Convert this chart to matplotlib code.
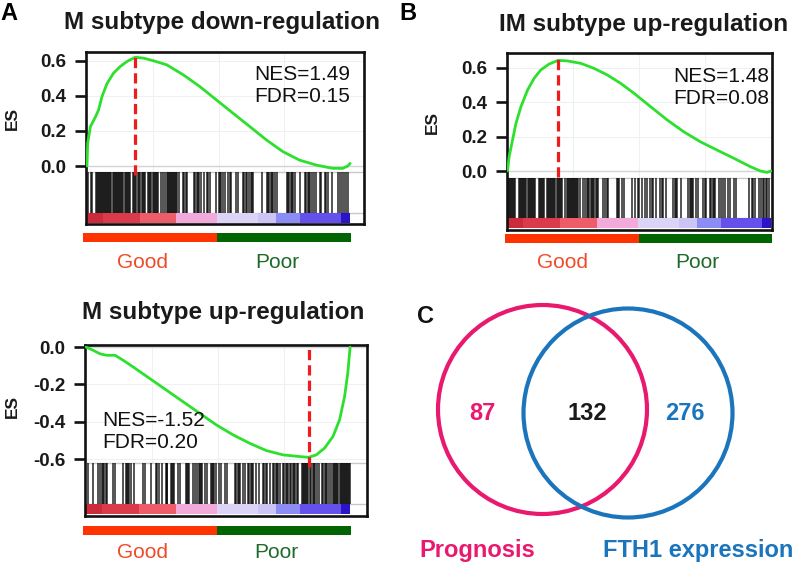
import matplotlib
matplotlib.use("Agg")
import matplotlib.pyplot as plt
from matplotlib.patches import Circle, Rectangle

plt.rcParams['font.family'] = ['Liberation Sans', 'DejaVu Sans']

# ---------------- data ----------------
# Panel A: M subtype down-regulation
a_rank = [0, 0.25, 1.3, 3.2, 4.4, 5.7, 7.6, 10.1, 12.6, 15.2, 18.3, 21.5, 25.3, 30.3,
          36.6, 42.9, 49.2, 55.6, 61.9, 68.2, 74.5, 80.8, 87.1, 93.4, 97.2, 99.1, 100]
a_es = [0, 0.13, 0.225, 0.28, 0.32, 0.396, 0.47, 0.53, 0.567, 0.596, 0.62, 0.615, 0.60,
        0.577, 0.52, 0.453, 0.377, 0.30, 0.225, 0.149, 0.082, 0.034, 0.006, -0.013,
        -0.013, 0.0, 0.015]
a_hits = [0.2, 1.4, 2.0, 3.3, 3.7, 4.1, 4.5, 4.9, 5.3, 5.7, 6.1, 6.5, 6.9, 7.3, 7.7, 8.1,
          8.5, 8.9, 9.3, 9.7, 10.1, 10.5, 10.9, 11.3, 11.7, 12.1, 12.5, 12.9, 13.3, 13.7,
          14.5, 14.9, 15.3, 15.7, 16.1, 16.5, 17.6, 18.0, 18.4, 18.8, 19.2, 19.6, 20.0,
          21.0, 21.4, 21.8, 22.2, 23.3, 23.7, 24.1, 24.5, 24.9, 25.3, 25.7, 26.1, 26.5,
          26.9, 28.2, 29.0, 29.7, 30.4, 30.8, 31.2, 31.6, 32.0, 32.4, 32.8, 33.2, 33.6,
          34.0, 34.4, 34.8, 36.5, 37.0, 37.5, 38.0, 40.7, 41.2, 41.7, 42.2, 42.6, 43.5,
          44.6, 45.6, 46.1, 46.6, 48.9, 50.0, 50.6, 51.1, 51.6, 52.5, 53.7, 54.2, 54.8,
          56.5, 57.5, 59.3, 59.8, 60.3, 60.8, 61.5, 62.3, 62.8, 63.1, 66.5, 68.3, 68.8,
          69.3, 69.8, 70.3, 70.7, 71.6, 72.3, 75.9, 76.4, 76.9, 77.4, 77.9, 78.4, 78.9,
          81.0, 82.9, 83.4, 83.9, 84.4, 84.9, 85.4, 86.2, 87.0, 88.6, 89.1, 90.5, 91.0,
          91.5, 93.0, 95.6, 96.1, 97.0, 97.8, 98.6, 99.4]
a_peak_rank, a_peak_es = 18.3, 0.62

# Panel B: IM subtype up-regulation
b_rank = [0, 0.6, 1.9, 3.2, 5.1, 7.6, 10.1, 12.6, 15.8, 19.2, 22.7, 27.8, 32.8, 37.9,
          42.9, 48.0, 54.3, 60.6, 66.9, 73.2, 79.5, 85.9, 92.2, 96.0, 98.5, 100]
b_es = [0, 0.083, 0.18, 0.277, 0.374, 0.471, 0.539, 0.587, 0.622, 0.643, 0.64, 0.626,
        0.597, 0.558, 0.51, 0.452, 0.374, 0.297, 0.228, 0.17, 0.122, 0.074, 0.025, 0.0,
        -0.008, 0.0]
b_hits = [0.2, 0.6, 1.0, 1.4, 1.8, 2.2, 2.6, 3.0, 4.4, 4.8, 5.2, 5.6, 6.0, 6.4, 6.8, 7.2,
          7.6, 8.0, 8.4, 8.8, 9.2, 9.6, 10.0, 10.4, 11.8, 12.2, 12.6, 13.0, 13.4, 13.8,
          15.0, 15.4, 15.8, 16.2, 16.6, 17.0, 17.4, 17.8, 18.2, 18.6, 19.0, 19.4, 19.8,
          20.2, 20.6, 22.0, 22.4, 22.8, 23.2, 23.6, 24.0, 24.4, 24.8, 25.2, 25.6, 26.0,
          26.4, 26.8, 27.7, 28.6, 29.5, 30.0, 30.5, 31.0, 31.5, 32.0, 32.5, 33.0, 33.5,
          34.0, 34.5, 36.2, 36.9, 37.8, 38.3, 41.5, 42.0, 42.5, 43.5, 44.2, 47.4, 48.5,
          49.5, 50.0, 50.9, 52.3, 52.8, 54.2, 54.7, 55.2, 56.5, 58.0, 58.5, 59.0, 60.3,
          62.9, 63.4, 63.9, 64.4, 65.8, 68.6, 69.1, 69.6, 70.1, 70.5, 71.5, 72.2, 74.2,
          74.8, 75.4, 76.9, 77.4, 77.9, 78.4, 78.8, 80.2, 81.2, 81.8, 82.4, 83.7, 84.3,
          85.8, 86.8, 91.6, 92.8, 93.3, 93.8, 95.4, 96.4, 97.0, 97.5, 98.0, 98.5, 99.2]
b_peak_rank, b_peak_es = 19.2, 0.643

# Panel A (lower): M subtype up-regulation
c_rank = [0, 2.8, 5.3, 7.8, 11.0, 14.1, 17.9, 24.2, 30.5, 36.8, 43.1, 49.4, 55.7, 62.0,
          68.3, 74.6, 80.9, 84.3, 87.2, 90.3, 93.5, 96.0, 97.9, 99.1, 100]
c_es = [0, -0.018, -0.036, -0.044, -0.044, -0.071, -0.107, -0.169, -0.231, -0.293,
        -0.355, -0.417, -0.47, -0.515, -0.554, -0.577, -0.586, -0.59, -0.577, -0.541,
        -0.479, -0.39, -0.266, -0.142, 0]
c_hits = [0.8, 2.6, 4.4, 5.2, 6.0, 6.5, 7.0, 7.5, 8.0, 10.2, 11.0, 13.9, 15.0, 15.5, 16.0,
          16.3, 17.2, 18.0, 21.5, 22.3, 24.8, 26.4, 27.0, 27.8, 28.7, 30.2, 30.5, 30.8,
          32.1, 32.5, 32.9, 33.3, 34.8, 35.6, 37.8, 38.2, 38.6, 39.0, 40.5, 41.3, 42.2,
          42.6, 43.0, 43.4, 43.8, 44.9, 45.9, 47.2, 47.6, 48.0, 48.5, 49.4, 50.4, 51.3,
          52.7, 53.2, 56.4, 56.9, 57.4, 57.9, 58.3, 59.4, 60.2, 61.4, 61.9, 62.4, 62.9,
          63.3, 64.3, 65.5, 67.0, 67.5, 68.0, 68.6, 69.5, 70.8, 71.3, 71.8, 72.3, 72.7,
          73.6, 74.6, 75.1, 75.6, 76.1, 76.5, 77.3, 77.8, 78.3, 78.8, 79.3, 79.8, 80.3,
          81.9, 82.2, 82.6, 83.0, 83.4, 83.8, 84.1, 84.8, 85.3, 85.8, 86.3, 86.8, 87.3,
          88.4, 89.4, 89.9, 90.4, 90.9, 91.3, 92.2, 92.9, 93.6, 94.0, 94.4, 94.8, 95.2,
          95.6, 96.0, 96.4, 96.8, 97.2, 97.6, 98.0, 98.4, 98.8, 99.2, 99.6, 100.0]
c_peak_rank, c_peak_es = 84.6, -0.59

# ranked-list colour bar (shared)
cbar_edges = [0, 6, 20, 34, 49.5, 65, 72, 81, 96.5, 100]
cbar_colors = ['#CC2B3B', '#DB3A4A', '#EE5C6A', '#F2AADA', '#DCD4F6', '#CBC4F5',
               '#8C8CF5', '#6450EA', '#2A14C8']

groups = ['Good', 'Poor']
group_share = [50, 50]
group_colors = ['#FF3300', '#006400']
group_text_colors = ['#F04A2A', '#1E6A2A']

venn_sets = ['Prognosis', 'FTH1 expression']
venn_counts = [87, 132, 276]
venn_colors = ['#E8196E', '#1A75BC']

# ---------------- layout helpers ----------------
W, H = 800, 563
fig = plt.figure(figsize=(W / 100, H / 100), dpi=100)


def frect(l, t, r, b):
    return [l / W, 1 - b / H, (r - l) / W, (b - t) / H]


def ftext(x, y, s, **kw):
    fig.text(x / W, 1 - y / H, s, **kw)


def gsea(rect, xlim, ylim, rank, es, hits, peak_rank, dash, sep, hit_bot, cbar_bot,
         yticks):
    ax = fig.add_axes(rect)
    ax.set_xlim(xlim)
    ax.set_ylim(ylim)
    # faint grid in the curve region
    ax.vlines([25, 50, 75], sep, ylim[1], color='#F0F0F0', lw=0.8, zorder=0)
    ax.hlines(yticks, xlim[0], xlim[1], color='#F0F0F0', lw=0.8, zorder=0)
    ax.hlines(0, xlim[0], xlim[1], color='#D4D4D4', lw=1.0, zorder=1)
    ax.hlines([sep, hit_bot], xlim[0], xlim[1], color='#C8C8C8', lw=1.0, zorder=1)
    # hits
    ax.vlines(hits, hit_bot, sep, color='black', lw=1.15, alpha=0.82, zorder=2)
    # ranked list colour bar
    for e0, e1, c in zip(cbar_edges[:-1], cbar_edges[1:], cbar_colors):
        ax.add_patch(Rectangle((e0, cbar_bot), e1 - e0, hit_bot - cbar_bot,
                               facecolor=c, edgecolor='none', zorder=2))
    # running ES
    ax.plot(rank, es, color='#2EE02E', lw=2.0, zorder=4, solid_capstyle='round')
    ax.vlines(peak_rank, dash[0], dash[1], colors='#EE1C1C', lw=2.3,
              linestyles=(0, (3.2, 1.6)), zorder=5)
    ax.set_xticks([])
    ax.set_yticks(yticks)
    ax.set_yticklabels(['%.1f' % v if abs(v) > 1e-9 else '0.0' for v in yticks],
                       fontsize=13.5, fontweight='bold', color='#1A1A1A')
    ax.tick_params(axis='y', length=8, width=1.9, pad=6, color='#111111')
    for sp in ax.spines.values():
        sp.set_linewidth(1.9)
        sp.set_color('#111111')
    return ax


def group_bar(rect):
    axb = fig.add_axes(rect)
    left = 0
    for share, c in zip(group_share, group_colors):
        axb.barh(0, share, left=left, height=1, color=c, edgecolor='none')
        left += share
    axb.set_xlim(0, sum(group_share))
    axb.set_ylim(-0.5, 0.5)
    axb.axis('off')


# ---------------- panel A (top) ----------------
gsea(frect(86, 52, 364, 224), (-0.38, 105.3), (-0.33, 0.65), a_rank, a_es, a_hits,
     a_peak_rank, (-0.05, 0.634), -0.034, -0.27, -0.326, [0.0, 0.2, 0.4, 0.6])
group_bar(frect(83, 233, 351, 242))
ftext(222, 23, 'M subtype down-regulation', ha='center', va='center', fontsize=17.5,
      fontweight='bold', color='#1A1A1A')
ftext(9, 13, 'A', ha='center', va='center', fontsize=17, fontweight='bold')
ftext(12, 118, 'ES', ha='center', va='center', rotation=90, fontsize=12.5,
      fontweight='bold', color='#1A1A1A')
ftext(350, 74, 'NES=1.49', ha='right', va='center', fontsize=15, color='#111111')
ftext(350, 96, 'FDR=0.15', ha='right', va='center', fontsize=15, color='#111111')
ftext(142, 262, groups[0], ha='center', va='center', fontsize=15,
      color=group_text_colors[0])
ftext(277, 262, groups[1], ha='center', va='center', fontsize=15,
      color=group_text_colors[1])

# ---------------- panel B ----------------
gsea(frect(507, 53, 772, 230), (-0.2, 100.4), (-0.343, 0.686), b_rank, b_es, b_hits,
     b_peak_rank, (-0.035, 0.665), -0.041, -0.273, -0.331, [0.0, 0.2, 0.4, 0.6])
group_bar(frect(505, 234, 772, 243))
ftext(644, 24, 'IM subtype up-regulation', ha='center', va='center', fontsize=17.5,
      fontweight='bold', color='#1A1A1A')
ftext(408, 13, 'B', ha='center', va='center', fontsize=17, fontweight='bold')
ftext(432, 122, 'ES', ha='center', va='center', rotation=90, fontsize=12.5,
      fontweight='bold', color='#1A1A1A')
ftext(769, 77, 'NES=1.48', ha='right', va='center', fontsize=15, color='#111111')
ftext(769, 98, 'FDR=0.08', ha='right', va='center', fontsize=15, color='#111111')
ftext(563, 262, groups[0], ha='center', va='center', fontsize=15,
      color=group_text_colors[0])
ftext(697, 262, groups[1], ha='center', va='center', fontsize=15,
      color=group_text_colors[1])

# ---------------- panel A (bottom) ----------------
gsea(frect(85, 345, 367, 516), (-0.38, 106.4), (-0.904, 0.011), c_rank, c_es, c_hits,
     c_peak_rank, (-0.64, 0.009), -0.62, -0.84, -0.893, [-0.6, -0.4, -0.2, 0.0])
group_bar(frect(83, 526, 351, 535))
ftext(223, 313, 'M subtype up-regulation', ha='center', va='center', fontsize=17.5,
      fontweight='bold', color='#1A1A1A')
ftext(12, 406, 'ES', ha='center', va='center', rotation=90, fontsize=12.5,
      fontweight='bold', color='#1A1A1A')
ftext(102, 421, 'NES=-1.52', ha='left', va='center', fontsize=15, color='#111111')
ftext(102, 443, 'FDR=0.20', ha='left', va='center', fontsize=15, color='#111111')
ftext(142, 552, groups[0], ha='center', va='center', fontsize=15,
      color=group_text_colors[0])
ftext(276, 552, groups[1], ha='center', va='center', fontsize=15,
      color=group_text_colors[1])

# ---------------- panel C: Venn ----------------
axv = fig.add_axes([400 / W, 0, 400 / W, 283 / H])
axv.set_xlim(400, 800)
axv.set_ylim(563, 280)
axv.axis('off')
axv.add_patch(Circle((542.5, 409.5), 104.5, fill=False, lw=3.0, ec=venn_colors[0]))
axv.add_patch(Circle((628, 413), 104.5, fill=False, lw=3.0, ec=venn_colors[1]))
axv.text(482, 413, str(venn_counts[0]), ha='center', va='center', fontsize=17,
         fontweight='bold', color=venn_colors[0])
axv.text(587, 413, str(venn_counts[1]), ha='center', va='center', fontsize=17,
         fontweight='bold', color='#1A1A1A')
axv.text(685, 413, str(venn_counts[2]), ha='center', va='center', fontsize=17,
         fontweight='bold', color=venn_colors[1])
axv.text(477, 550, venn_sets[0], ha='center', va='center', fontsize=17,
         fontweight='bold', color=venn_colors[0], clip_on=False)
axv.text(698, 550, venn_sets[1], ha='center', va='center', fontsize=17,
         fontweight='bold', color=venn_colors[1], clip_on=False)
axv.text(425, 316, 'C', ha='center', va='center', fontsize=17, fontweight='bold',
         color='#111111')

fig.savefig('out.png', dpi=100)
